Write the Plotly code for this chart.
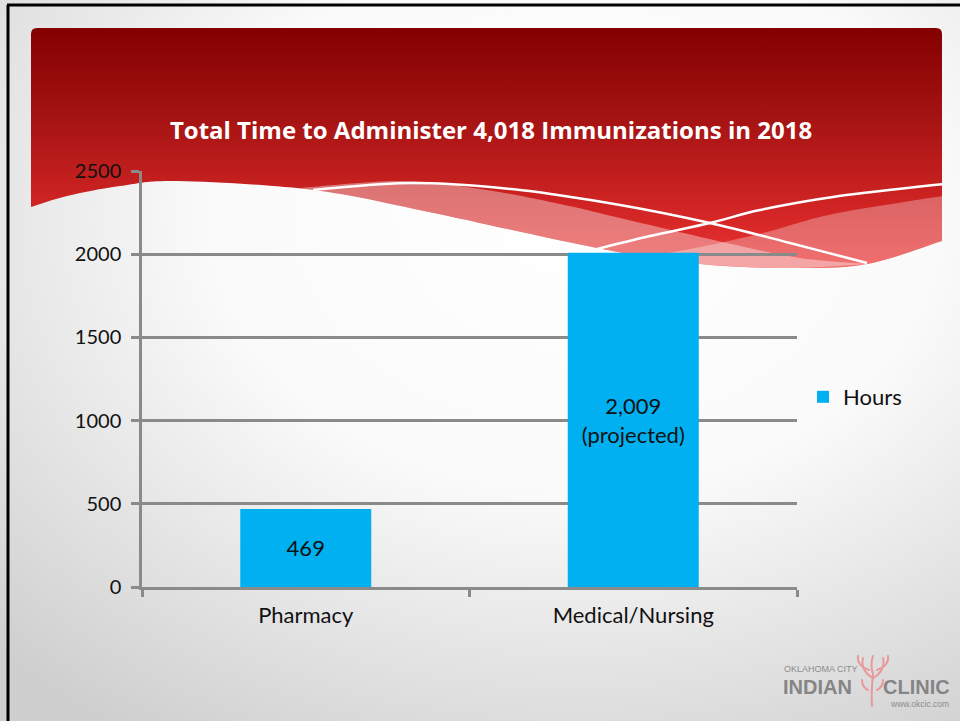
import base64
import plotly.graph_objects as go

# ---------------- data ----------------
categories = ["Pharmacy", "Medical/Nursing"]
hours = [469, 2009]
bar_labels = ["469", "2,009<br>(projected)"]
y_ticks = [0, 500, 1000, 1500, 2000, 2500]
series_name = "Hours"
title_text = "Total Time to Administer 4,018 Immunizations in 2018"

W, H = 960, 721


# ---------------- decorative slide background (SVG) ----------------
def smooth(pts, start=True):
    d = (f"M{pts[0][0]},{pts[0][1]}" if start else f" L{pts[0][0]},{pts[0][1]}")
    for i in range(len(pts) - 1):
        p0 = pts[i - 1] if i > 0 else pts[i]
        p1 = pts[i]
        p2 = pts[i + 1]
        p3 = pts[i + 2] if i + 2 < len(pts) else p2
        c1 = (p1[0] + (p2[0] - p0[0]) / 6, p1[1] + (p2[1] - p0[1]) / 6)
        c2 = (p2[0] - (p3[0] - p1[0]) / 6, p2[1] - (p3[1] - p1[1]) / 6)
        d += f" C{c1[0]:.1f},{c1[1]:.1f} {c2[0]:.1f},{c2[1]:.1f} {p2[0]},{p2[1]}"
    return d


bottom = [(942, 241), (867, 264), (790, 268), (700, 264), (597, 248), (429, 212),
          (313, 190), (178, 181), (120, 186), (67, 196), (31, 207)]
red_d = "M31,34 Q31,28 37,28 L936,28 Q942,28 942,34" + smooth(bottom, start=False) + " Z"

ta = [(300, 188), (400, 181), (480, 189), (560, 204), (620, 218), (727, 243), (800, 258), (867, 264)]
ba = [(867, 264), (790, 268), (700, 264), (597, 248), (429, 212), (300, 188)]
ribbon_a = smooth(ta) + smooth(ba, start=False) + " Z"

tb = [(650, 256), (700, 247), (767, 232), (833, 214), (942, 196)]
bb = [(942, 241), (867, 264), (790, 268), (700, 264), (650, 256)]
ribbon_b = smooth(tb) + smooth(bb, start=False) + " Z"

line1 = smooth([(313, 190), (413, 183), (520, 190), (620, 205), (710, 223), (790, 243), (867, 263)])
line2 = smooth([(597, 249), (650, 236), (710, 223), (760, 210), (833, 197), (943, 184)])

svg = f"""<svg xmlns="http://www.w3.org/2000/svg" width="{W}" height="{H}" viewBox="0 0 {W} {H}">
<defs>
<radialGradient id="bg" cx="0.6" cy="0.3" r="0.85" gradientUnits="objectBoundingBox">
<stop offset="0" stop-color="#ffffff"/>
<stop offset="0.45" stop-color="#fafafa"/>
<stop offset="1" stop-color="#cfcfcf"/>
</radialGradient>
<linearGradient id="red" x1="0" y1="28" x2="0" y2="270" gradientUnits="userSpaceOnUse">
<stop offset="0" stop-color="#840000"/>
<stop offset="0.35" stop-color="#a31212"/>
<stop offset="0.7" stop-color="#cc2222"/>
<stop offset="1" stop-color="#ec3232"/>
</linearGradient>
</defs>
<rect x="0" y="0" width="{W}" height="{H}" fill="url(#bg)"/>
<path d="{red_d}" fill="url(#red)"/>
<path d="{ribbon_a}" fill="#ffffff" fill-opacity="0.38"/>
<path d="{ribbon_b}" fill="#ffffff" fill-opacity="0.30"/>
<path d="{line1}" fill="none" stroke="#ffffff" stroke-width="2.5"/>
<path d="{line2}" fill="none" stroke="#ffffff" stroke-width="2.5"/>
<path d="M7,5 L960,5 M8,5 L8,721" stroke="#000000" stroke-width="3" fill="none"/>
<g fill="none" stroke="#e89a9a" stroke-width="2" stroke-linecap="round">
<path d="M872,706 C871,694 872,684 873,674"/>
<path d="M873,678 C865,674 861,666 863,658"/>
<path d="M873,678 C881,674 885,666 883,658"/>
<path d="M869,670 C861,667 857,662 858,656"/>
<path d="M877,670 C885,667 889,662 888,656"/>
<path d="M873,674 C871,668 871,662 873,656"/>
<path d="M868,690 C864,688 862,684 862,680"/>
<path d="M877,690 C881,688 883,684 883,680"/>
</g>
</svg>"""
svg_uri = "data:image/svg+xml;base64," + base64.b64encode(svg.encode()).decode()

# ---------------- figure ----------------
x0, x1 = 142, 797
ytop, ybot = 171, 587
grid_c = "#8a8a8a"
font_fam = "Lato, 'Open Sans', sans-serif"
logo_fam = "'Liberation Sans', Arial, sans-serif"

fig = go.Figure()
fig.add_trace(go.Bar(
    x=categories, y=hours, name=series_name, showlegend=True,
    marker=dict(color="#00b0f0", line=dict(width=0)),
    width=0.4,
    text=bar_labels, textposition="inside", insidetextanchor="middle",
    textangle=0, constraintext="none",
    textfont=dict(family=font_fam, size=22, color="#111111"),
    hoverinfo="skip",
))

fig.update_layout(
    template="none",
    width=W, height=H,
    margin=dict(l=0, r=0, t=0, b=0),
    paper_bgcolor="#ffffff",
    plot_bgcolor="rgba(0,0,0,0)",
    font=dict(family=font_fam, color="#111111"),
    title=dict(text=title_text, x=491 / W, xanchor="center", y=1 - 131 / H, yanchor="middle",
               xref="paper", yref="paper",
               font=dict(family="'Open Sans', sans-serif", size=24, color="#ffffff", weight="bold")),
    images=[dict(source=svg_uri, xref="paper", yref="paper", x=0, y=1, sizex=1, sizey=1,
                 xanchor="left", yanchor="top", sizing="stretch", layer="below")],
    xaxis=dict(domain=[x0 / W, x1 / W], type="category", showgrid=False, zeroline=False,
               showline=True, linecolor=grid_c, linewidth=2.5,
               ticks="outside", tickson="boundaries", ticklen=7, tickwidth=2.5, tickcolor=grid_c,
               ticklabelstandoff=7,
               tickfont=dict(size=22, color="#111111"), automargin=False),
    yaxis=dict(domain=[1 - ybot / H, 1 - ytop / H], range=[0, 2500], tickvals=y_ticks,
               showgrid=True, gridcolor=grid_c, gridwidth=2.5, zeroline=False,
               showline=True, linecolor=grid_c, linewidth=2.5,
               ticks="outside", ticklen=8, tickwidth=2.5, tickcolor=grid_c,
               ticklabelstandoff=6,
               tickfont=dict(size=20, color="#111111"), automargin=False),
    legend=dict(x=803 / W, xanchor="left", y=1 - 397 / H, yanchor="middle",
                bgcolor="rgba(0,0,0,0)", font=dict(size=22, color="#111111")),
    bargap=0.6,
    annotations=[
        dict(text="OKLAHOMA CITY", x=782 / W, y=1 - 669 / H, xref="paper", yref="paper",
             xanchor="left", yanchor="middle", showarrow=False,
             font=dict(family=logo_fam, size=9, color="#8c8c8c")),
        dict(text="<b>INDIAN</b>", x=781 / W, y=1 - 687 / H, xref="paper", yref="paper",
             xanchor="left", yanchor="middle", showarrow=False,
             font=dict(family=logo_fam, size=20, color="#858585")),
        dict(text="<b>CLINIC</b>", x=952 / W, y=1 - 687 / H, xref="paper", yref="paper",
             xanchor="right", yanchor="middle", showarrow=False,
             font=dict(family=logo_fam, size=20, color="#858585")),
        dict(text="www.okcic.com", x=951 / W, y=1 - 704 / H, xref="paper", yref="paper",
             xanchor="right", yanchor="middle", showarrow=False,
             font=dict(family=logo_fam, size=8.5, color="#8c8c8c")),
    ],
)

fig.write_html("out.html", config={"displayModeBar": False},
               post_script="document.body.style.margin='0px';")
